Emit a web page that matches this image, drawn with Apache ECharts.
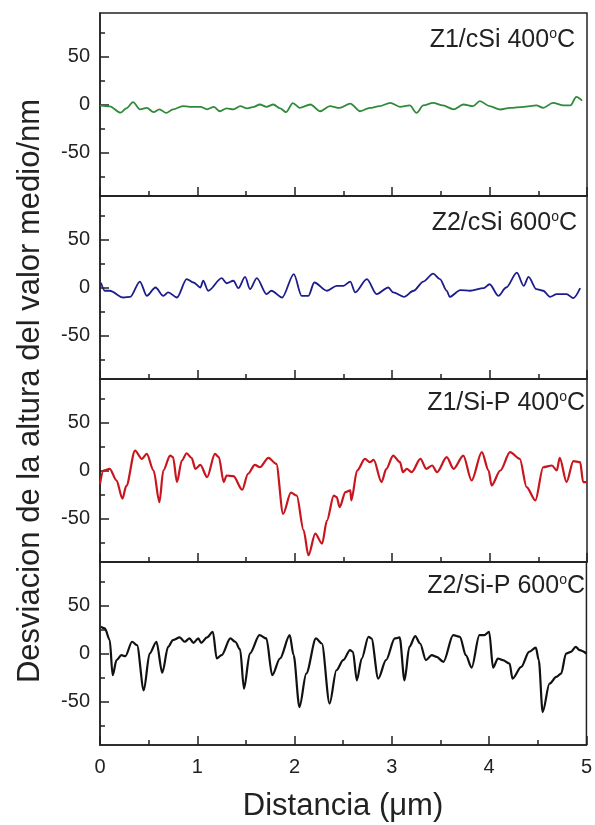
<!DOCTYPE html>
<html>
<head>
<meta charset="utf-8">
<script src="https://cdn.jsdelivr.net/npm/echarts@6/dist/echarts.min.js"></script>
<style>
  html, body { margin: 0; padding: 0; background: #fff; }
  #chart { width: 595px; height: 825px; }
</style>
</head>
<body>
<div id="chart"></div>
<script>
// perfiles de altura (x en um, y en nm)
const z1cSi400 = [[0.00,-1],[0.10,-2],[0.21,-8.5],[0.27,-4],[0.34,2.4],[0.41,-5],[0.48,-3.5],[0.55,-8],
  [0.61,-5],[0.68,-8.7],[0.75,-5],[0.85,-1.7],[0.92,-2.4],[1.03,-2.4],[1.10,-5],[1.17,-2.4],[1.23,-7],
  [1.30,-4],[1.37,-5],[1.44,-1.7],[1.51,-4],[1.58,-2.4],[1.64,0],[1.71,-2.4],[1.78,0],[1.85,-4],[1.91,-8],
  [1.98,1.5],[2.05,-3.5],[2.16,0],[2.26,-7],[2.36,-1.7],[2.46,-3.5],[2.57,1],[2.67,-7],[2.77,-3.5],
  [2.87,-1.7],[2.98,1.7],[3.08,-2.4],[3.18,-1],[3.25,-8.7],[3.32,-1],[3.42,1.7],[3.52,-1],[3.63,-5],
  [3.73,0],[3.83,-1.7],[3.90,3.5],[4.00,-1.7],[4.11,-5.2],[4.21,-3.5],[4.35,-2.4],[4.48,-1],[4.55,-3.5],
  [4.65,1.7],[4.76,-1],[4.83,-1],[4.89,8],[4.95,4]];

const z2cSi600 = [[0.01,5],[0.05,-3.4],[0.10,-3.4],[0.24,-10.4],[0.31,-9.7],[0.41,6.2],[0.48,-8.6],
  [0.57,0],[0.65,-8.6],[0.70,-5],[0.79,-10.4],[0.89,8.7],[0.96,5.2],[1.03,0],[1.06,7],[1.11,-3.4],
  [1.25,9.7],[1.30,4.4],[1.37,7],[1.42,-0.7],[1.49,11],[1.54,-1.7],[1.61,9.7],[1.71,-6.9],[1.76,-3.4],
  [1.87,-10.4],[1.99,13.9],[2.07,-8.6],[2.14,-8.6],[2.20,5.2],[2.33,-3.4],[2.43,1.7],[2.50,1.7],
  [2.57,6.2],[2.62,-5],[2.74,8.7],[2.84,-6.9],[2.96,0],[3.01,-5],[3.12,-9.7],[3.22,-3.4],[3.32,6.2],
  [3.42,14.5],[3.49,8.7],[3.56,-3.4],[3.59,-9.7],[3.70,-2.7],[3.80,-3.4],[3.94,-0.7],[4.00,3.4],
  [4.09,-8.6],[4.17,0],[4.28,15.5],[4.35,1.7],[4.40,11],[4.48,-1.7],[4.55,-3.4],[4.62,-9.7],
  [4.69,-6.9],[4.79,-6.9],[4.86,-11],[4.93,-0.7]];

const z1SiP400 = [[0.00,-14],[0.035,0],[0.10,1.7],[0.17,-10.4],[0.23,-29.3],[0.27,-16],[0.36,20.7],
  [0.43,12],[0.48,17.2],[0.55,0],[0.61,-32.8],[0.65,0],[0.72,15.5],[0.75,13.8],[0.79,-12],[0.84,10.4],
  [0.89,17.9],[0.94,13.1],[0.98,1.7],[1.03,5.9],[1.10,-6.9],[1.18,17.2],[1.22,13.8],[1.27,-12],
  [1.30,-5.2],[1.37,-5.9],[1.46,-20],[1.52,-3.4],[1.59,5.9],[1.64,3.4],[1.73,13.1],[1.81,6.9],
  [1.88,-45],[1.96,-23],[2.02,-26],[2.09,-62],[2.14,-88],[2.21,-65.5],[2.28,-76],[2.33,-52],
  [2.40,-26],[2.43,-27.6],[2.46,-38],[2.52,-22.4],[2.57,-20.7],[2.58,-31],[2.64,0],[2.72,12],
  [2.77,8.6],[2.81,11],[2.89,-12],[2.94,1.7],[3.01,15.5],[3.08,8.6],[3.11,-1.7],[3.15,1.7],
  [3.20,-1.7],[3.29,12],[3.35,1.7],[3.41,5.2],[3.46,-1.7],[3.56,13.8],[3.63,1.7],[3.73,15.5],
  [3.815,-10.4],[3.92,19],[3.99,0],[4.02,-15.5],[4.11,0],[4.21,19],[4.31,12],[4.38,-17.2],
  [4.47,-31],[4.55,3.4],[4.64,5.2],[4.69,0],[4.72,13.1],[4.79,-12],[4.86,9.7],[4.93,8.6],
  [4.96,-12],[5.00,-12]];

const z2SiP600 = [[0.01,27.8],[0.05,26],[0.10,13.9],[0.13,-22.6],[0.17,-6.9],[0.22,-1.7],[0.26,-2.8],
  [0.33,12.2],[0.38,8.7],[0.45,-38.2],[0.51,0],[0.58,12.2],[0.64,-20],[0.70,6.9],[0.75,13.9],
  [0.82,16.7],[0.87,12.2],[0.92,15.6],[0.96,11.1],[1.01,15.6],[1.04,11.1],[1.10,16.7],[1.16,22.6],
  [1.20,-5.2],[1.25,-1.7],[1.34,15.6],[1.39,12.2],[1.44,4.2],[1.48,-36.5],[1.54,0],[1.64,19.1],
  [1.71,15.6],[1.77,-22.6],[1.85,-5.2],[1.95,19],[1.99,-1.7],[2.05,-55.6],[2.12,-20.8],[2.22,15.6],
  [2.28,10.4],[2.36,-52],[2.43,-17.4],[2.50,-6.9],[2.57,3.5],[2.60,1.7],[2.64,-27.8],[2.69,-5.2],
  [2.76,17.4],[2.79,15.6],[2.86,-26],[2.94,-6.9],[3.03,15.6],[3.08,16.7],[3.13,-27.8],[3.18,6.9],
  [3.24,18],[3.29,10.4],[3.35,-6.9],[3.41,-1.7],[3.46,-3.5],[3.53,-8.7],[3.63,19.1],[3.70,17.4],
  [3.76,-1.7],[3.82,-14.6],[3.90,19.1],[3.95,19.1],[4.00,22.6],[4.04,-14.6],[4.09,-5.2],[4.14,-6.9],
  [4.21,-10.4],[4.24,-26],[4.33,-13.9],[4.41,1.7],[4.48,6.2],[4.51,-6.9],[4.55,-60.8],[4.62,-31.3],
  [4.69,-24.3],[4.74,-20.8],[4.79,0],[4.84,1.7],[4.89,6.9],[4.93,3.5],[5.00,0]];

const panelData = [z1cSi400, z2cSi600, z1SiP400, z2SiP600];
const panelNames = ['Z1/cSi 400', 'Z2/cSi 600', 'Z1/Si-P 400', 'Z2/Si-P 600'];
const panelColors = ['#2f8a3a', '#1c1c8c', '#c8161e', '#111111'];
const yMajorTicks = [-50, 0, 50];
const yMinorTicks = [-75, -25, 25, 75];
const yRange = [-95, 95];
const xRange = [0, 5];

const font = 'Liberation Sans, Arial, sans-serif';
const ink = '#222';
const gridTops = [13, 196, 379, 562];   // cada panel ~183px
const gridH = 183;
const labelPos = [[575, 40], [577, 223], [585, 403], [585, 586]];

let grids = [], xAxes = [], yAxes = [], series = [], graphics = [];

panelData.forEach((data, i) => {
  grids.push({
    left: 100, width: 487, top: gridTops[i], height: gridH,
    show: true, borderColor: ink, borderWidth: 1.5, backgroundColor: 'transparent'
  });
  xAxes.push({
    type: 'value', gridIndex: i, min: xRange[0], max: xRange[1], interval: 1,
    axisLine: { show: true, onZero: false, lineStyle: { color: ink, width: 1.5 } },
    axisTick: { show: true, inside: true, length: 9, lineStyle: { color: ink, width: 1.5 } },
    minorTick: { show: true, splitNumber: 2, length: 5, lineStyle: { color: ink, width: 1.5 } },
    axisLabel: { show: i === 3, fontSize: 20, color: ink, fontFamily: font, margin: 12 },
    splitLine: { show: false }
  });
  // eje principal: etiquetas y ticks mayores
  yAxes.push({
    type: 'value', gridIndex: i, position: 'left', min: yRange[0], max: yRange[1],
    axisLine: { show: true, onZero: false, lineStyle: { color: ink, width: 1.5 } },
    axisTick: { show: true, inside: true, length: 9, customValues: yMajorTicks, lineStyle: { color: ink, width: 1.5 } },
    axisLabel: { show: true, customValues: yMajorTicks, fontSize: 20, color: ink, fontFamily: font, margin: 10 },
    splitLine: { show: false }
  });
  // eje secundario solo para ticks menores
  yAxes.push({
    type: 'value', gridIndex: i, position: 'left', offset: 0, min: yRange[0], max: yRange[1],
    axisLine: { show: false, onZero: false },
    axisTick: { show: true, inside: true, length: 5, customValues: yMinorTicks, lineStyle: { color: ink, width: 1.5 } },
    axisLabel: { show: false },
    splitLine: { show: false }
  });
  series.push({
    type: 'line', xAxisIndex: i, yAxisIndex: 2 * i, data: data,
    showSymbol: false, symbol: 'none', smooth: 0.3, smoothMonotone: 'x',
    lineStyle: { color: panelColors[i], width: i < 2 ? 1.8 : 2.2 },
    animation: false
  });
  graphics.push({
    type: 'text', x: labelPos[i][0], y: labelPos[i][1],
    style: {
      text: '{a|' + panelNames[i] + '}{s|o}{a|C}',
      align: 'right', textAlign: 'right', verticalAlign: 'middle', textVerticalAlign: 'middle',
      rich: {
        a: { fontSize: 25, fontFamily: font, fill: ink, color: ink },
        s: { fontSize: 14, fontFamily: font, fill: ink, color: ink, verticalAlign: 'top' }
      }
    }
  });
});

graphics.push({
  type: 'text', x: 30, y: 391, rotation: Math.PI / 2,
  style: {
    text: 'Desviacion de la altura del valor medio/nm', fill: ink,
    font: '31px ' + font,
    align: 'center', textAlign: 'center', verticalAlign: 'middle', textVerticalAlign: 'middle'
  }
});
graphics.push({
  type: 'text', x: 343, y: 806,
  style: {
    text: 'Distancia (\u03bcm)', fill: ink,
    font: '31px ' + font,
    align: 'center', textAlign: 'center', verticalAlign: 'middle', textVerticalAlign: 'middle'
  }
});

const chart = echarts.init(document.getElementById('chart'));
chart.setOption({
  animation: false,
  backgroundColor: '#fff',
  grid: grids,
  xAxis: xAxes,
  yAxis: yAxes,
  series: series,
  graphic: graphics
});
</script>
</body>
</html>
